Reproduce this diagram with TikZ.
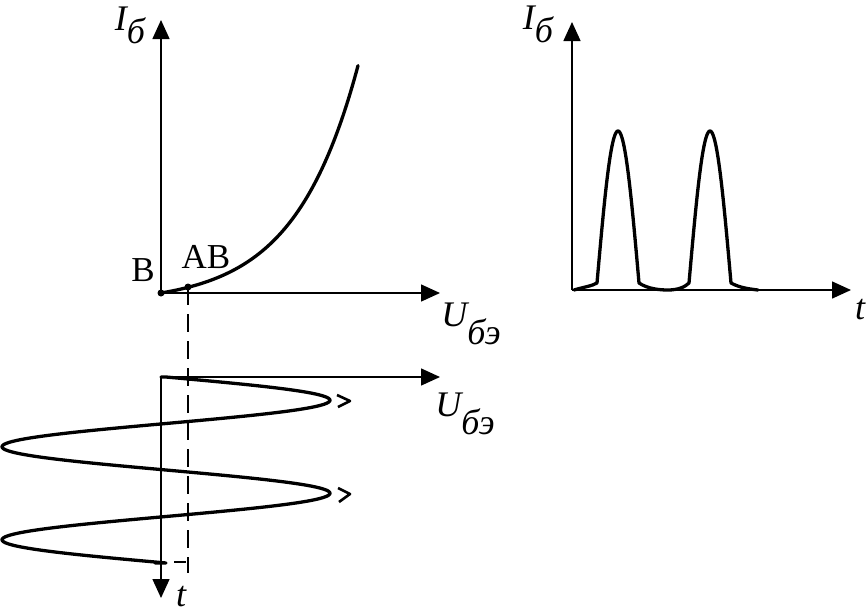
\documentclass[tikz,border=0pt]{standalone}
\usepackage{fontspec}
\setmainfont{Liberation Serif}
\usetikzlibrary{arrows.meta}
\tikzset{
  axis/.style={line width=1.5pt,-{Triangle[length=19pt,width=17pt]}},
  curve/.style={line width=3.3pt,line join=round,line cap=round},
  guide/.style={line width=1.5pt,dash pattern=on 18pt off 9pt},
  lbl/.style={inner sep=0pt,font=\fontsize{35}{35}\selectfont},
  ilbl/.style={inner sep=0pt,font=\fontsize{36}{36}\selectfont\itshape},
  mark2/.style={line width=2.6pt,line join=round},
}
\begin{document}
\begin{tikzpicture}[x=1pt,y=-1pt]
\useasboundingbox (0,0) rectangle (868,614);
% ---- top-left: input characteristic
\coordinate (O1) at (161,293);
\coordinate (Y1) at (161,20);
\coordinate (X1) at (440,293);
\coordinate (AB) at (188,287);
\draw[axis] (O1) -- (Y1);
\draw[axis] (O1) -- (X1);
\draw[curve] plot[domain=0:197,samples=120,smooth] ({161+\x},{293-10.7*(exp(\x/63.5)-1)});
\fill (O1) circle (3.5pt);
\fill (AB) circle (3.5pt);
\node[ilbl] (I1) at (130,25) {I\raisebox{-13pt}{б}};
\node[ilbl] (U1) at (471,324) {U\raisebox{-18pt}{бэ}};
\node[lbl] (Bl) at (143,270) {В};
\node[lbl] (ABl) at (206,257) {АВ};
% ---- bottom-left: input voltage vs time
\coordinate (O2) at (161,377);
\coordinate (X2) at (440,377);
\coordinate (T2) at (161,598);
\coordinate (G2) at (188,573);
\draw[axis] (O2) -- (X2);
\draw[axis] (O2) -- (T2);
\draw[guide] (AB) -- (G2);
\draw[curve] (O2) -- plot[domain=0:186,samples=200,smooth] ({166+164*sin(3.871*\x)},{377+\x}) -- (155,563);
\draw[mark2] (337,395) -- (350,401) -- (338,407);
\draw[mark2] (338,488) -- (350,494) -- (339,502);
\draw[mark2] (174,562) -- (186,562);
\node[ilbl] (U2) at (465,414) {U\raisebox{-18pt}{бэ}};
\node[ilbl] (t2) at (181,597) {t};
% ---- right: base current pulses
\coordinate (O3) at (572,290);
\coordinate (Y3) at (572,22);
\coordinate (X3) at (851,290);
\draw[axis] (O3) -- (Y3);
\draw[axis] (O3) -- (X3);
\draw[curve] (574,290) .. controls (584,287) and (592,286) .. (597,283)
  -- plot[domain=-21:21,samples=60] ({618+\x},{283-152*cos(90*\x/21)})
  .. controls (648,289) and (660,290) .. (668,290)
  .. controls (678,290) and (685,287) .. (689,283)
  -- plot[domain=-21:21,samples=60] ({710+\x},{283-152*cos(90*\x/21)})
  .. controls (740,288) and (750,289) .. (758,290);
\node[ilbl] (I3) at (538,24) {I\raisebox{-13pt}{б}};
\node[ilbl] (t3) at (860,310) {t};
\end{tikzpicture}
\end{document}
